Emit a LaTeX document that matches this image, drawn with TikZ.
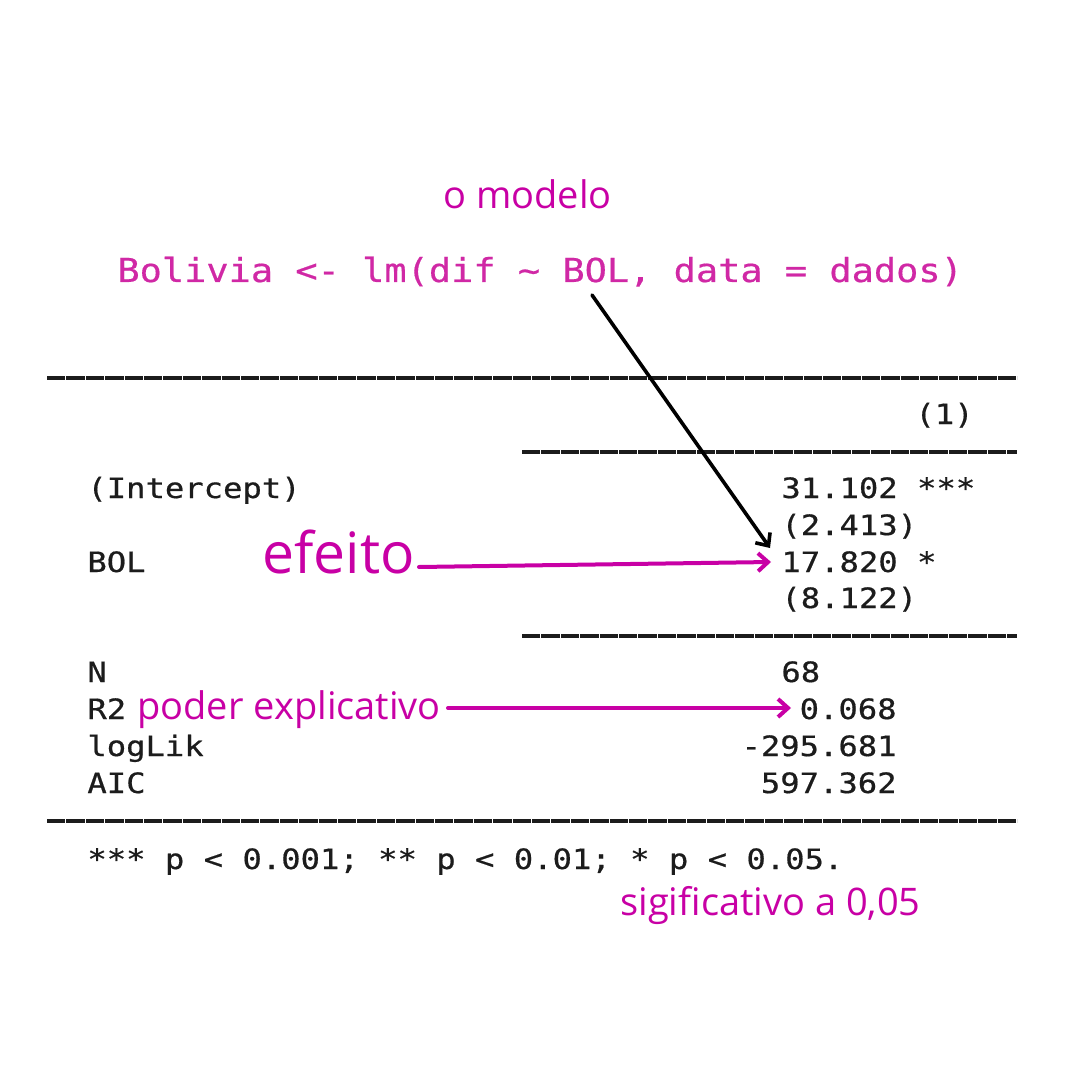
\documentclass[tikz,border=0pt]{standalone}
\usepackage{fontspec}
\setmainfont{Open Sans}
\newfontfamily\tabfont[FakeStretch=1.15,FakeBold=0.6]{DejaVu Sans Mono}
\newfontfamily\codefont[FakeStretch=1.12,FakeBold=0.5]{DejaVu Sans Mono}
\usetikzlibrary{arrows.meta}
\definecolor{mag}{RGB}{200,0,165}
\definecolor{codepink}{RGB}{208,40,165}
\definecolor{ink}{RGB}{28,28,28}
\begin{document}
\begin{tikzpicture}[x=0.5pt,y=-0.5pt,
  tab/.style={font=\tabfont\fontsize{14pt}{14pt}\selectfont, text=ink, inner sep=0pt, anchor=base west},
  tabr/.style={tab, anchor=base east},
  note/.style={font=\fontsize{19pt}{19pt}\selectfont, text=mag, inner sep=0pt, anchor=base west},
  rulel/.style={ink, line width=2pt, dash pattern=on 9.2pt off 0.5pt},
  marrow/.style={mag, line width=2pt, line cap=round, -{Straight Barb[length=5pt,width=9pt]}},
  karrow/.style={black, line width=1.8pt, line cap=round, -{Straight Barb[length=5pt,width=9pt]}}
]
\useasboundingbox (0,0) rectangle (1080,1080);
\fill[white] (0,0) rectangle (1080,1080);

% title and code
\node[note] (modelo) at (443,209) {o modelo};
\node[font=\codefont\fontsize{16.5pt}{16.5pt}\selectfont, text=codepink, inner sep=0pt, anchor=base west] (code) at (117,282) {Bolivia <- lm(dif \textasciitilde{} BOL, data = dados)};

% rules
\coordinate (r1a) at (47,378); \coordinate (r1b) at (1017,378);
\coordinate (r2a) at (522,452); \coordinate (r2b) at (1017,452);
\coordinate (r3a) at (522,636); \coordinate (r3b) at (1017,636);
\coordinate (r4a) at (47,821); \coordinate (r4b) at (1017,821);
\draw[rulel] (r1a) -- (r1b);
\draw[rulel] (r2a) -- (r2b);
\draw[rulel] (r3a) -- (r3b);
\draw[rulel] (r4a) -- (r4b);

% header
\node[tabr] (h1) at (974,424) {(1)};

% rows
\node[tab] (lint) at (87,498) {(Intercept)};
\node[tab] (vint) at (781,498) {31.102 ***};
\node[tab] (sint) at (781,535) {(2.413)};
\node[tab] (lbol) at (87,572) {BOL};
\node[tab] (vbol) at (781,572) {17.820 *};
\node[tab] (sbol) at (781,608) {(8.122)};

\node[tab] (ln) at (87,682) {N};
\node[tab] (vn) at (781,682) {68};
\node[tab] (lr2) at (87,719) {R2};
\node[tabr] (vr2) at (897,719) {0.068};
\node[tab] (lll) at (87,756) {logLik};
\node[tabr] (vll) at (897,756) {-295.681};
\node[tab] (laic) at (87,793) {AIC};
\node[tabr] (vaic) at (897,793) {597.362};

\node[tab] (foot) at (87,869) {*** p < 0.001; ** p < 0.01; * p < 0.05.};

% annotations
\node[note, font=\fontsize{28.5pt}{28.5pt}\selectfont] (efeito) at (262,573) {efeito};
\node[note] (poder) at (137,719) {poder explicativo};
\node[note] (sig) at (620,915) {sigificativo a 0,05};

% arrows
\coordinate (mstart) at (592,295);
\coordinate (mtip) at (770,548);
\coordinate (estart) at (419,567);
\coordinate (etip) at (771,562);
\coordinate (pstart) at (448,708);
\coordinate (ptip) at (791,708);
\draw[karrow] (mstart) -- (mtip);
\draw[marrow] (estart) -- (etip);
\draw[marrow] (pstart) -- (ptip);
\end{tikzpicture}
\end{document}
